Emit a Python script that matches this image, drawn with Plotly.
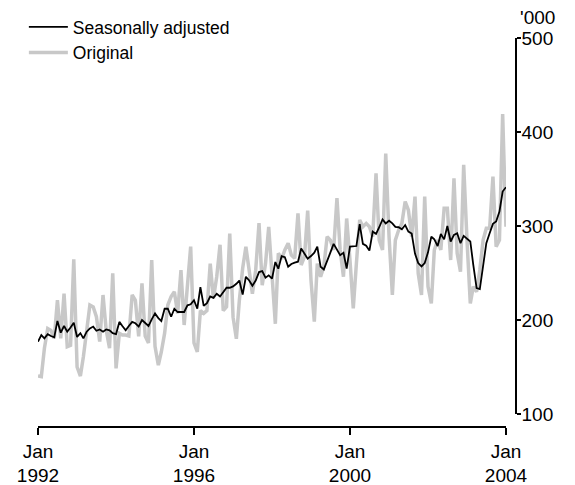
import pandas as pd
import plotly.graph_objects as go

# Monthly dates Jan 1992 .. Jan 2004
months = pd.date_range("1992-01-01", "2004-01-01", freq="MS")

seasonally_adjusted = [
    177, 184, 180.5, 185, 183, 181.6, 199, 186.5, 193.6, 187.6, 192, 197,
    182, 186, 180.5, 187.6, 191, 193, 188.6, 190, 187.6, 190, 189, 186,
    185, 198, 193.6, 189, 193.6, 198, 196.5, 193, 200, 196.5, 193.6, 200.7,
    207, 202, 199, 212, 212, 203.5, 212, 208.5, 208.5, 208.5, 215.6, 216.7,
    221, 212, 235, 215, 218, 225, 223.5, 228, 225, 229.6, 234.3, 234.3,
    235.7, 238.5, 242, 227, 246, 242, 236.5, 242, 251, 252, 245, 247.5,
    244, 261.7, 254.6, 268, 266.8, 256.6, 259.6, 261, 262, 276, 270.6, 265.3,
    268, 271.6, 278, 256.6, 253.8, 263.8, 271.6, 281, 274.5, 269, 271.6, 254.8,
    278, 278.7, 278.7, 302, 281, 279, 273.8, 294, 291.5, 298.7, 307, 302.8,
    305.6, 302.8, 299, 298.7, 296.6, 301, 294, 292, 270.6, 260.6, 257, 260.6,
    272, 288.7, 285.8, 278.7, 291.5, 285.8, 300, 283.5, 290.6, 292.3, 281.7, 289.5,
    286, 283.5, 258.7, 233.9, 232.8, 260.4, 281.7, 292.3, 302.3, 304.8, 315.4, 336.7,
    341.3,
]

original = [
    140.4, 139.7, 170, 191, 189, 180.5, 221, 180.5, 228, 171.6, 173, 264.6,
    150, 140.4, 161, 189, 216, 214, 203.5, 177, 226.6, 189, 170, 249.7,
    148.6, 185.8, 184, 184, 183, 226.6, 221, 182.5, 239, 183, 175.6, 263.8,
    172, 152, 166, 186, 216, 225, 230, 207, 253, 194.7, 235.5, 278,
    175.6, 166, 210, 207, 210, 260, 223, 246, 280, 210, 214, 292,
    203, 180, 221, 255, 278, 253, 228, 253, 303, 237, 260, 299,
    250, 196, 271, 265, 274.5, 281.6, 269, 265.6, 313.5, 258.5, 267.4, 316.3,
    242.5, 198.2, 260, 246, 256.7, 288.7, 285, 274.5, 329.6, 274.5, 246, 308,
    263.8, 212.4, 260, 306.4, 299.3, 302.8, 299.3, 288.7, 356, 285, 274.5, 377,
    288.7, 226.6, 285, 295.7, 302.8, 326, 317, 288.7, 331.3, 249.6, 226.6, 331.3,
    235.5, 217.7, 274.5, 285, 274.5, 319, 319, 263.8, 350.7, 271, 251.4, 365,
    285, 217.7, 235.5, 230, 253.2, 285, 297.5, 297.5, 352.5, 278, 285, 419,
    299.3,
]

x_tick_vals = ["1992-01-01", "1996-01-01", "2000-01-01", "2004-01-01"]
x_tick_text = ["Jan<br>1992", "Jan<br>1996", "Jan<br>2000", "Jan<br>2004"]
y_tick_vals = [100, 200, 300, 400, 500]

FONT = "Liberation Sans, Arial, sans-serif"

fig = go.Figure()
fig.add_trace(go.Scatter(
    x=months, y=original, mode="lines", name="Original",
    line=dict(color="#c8c8c8", width=3.5), legendrank=2,
))
fig.add_trace(go.Scatter(
    x=months, y=seasonally_adjusted, mode="lines", name="Seasonally adjusted",
    line=dict(color="#000000", width=1.8), legendrank=1,
))

fig.update_layout(
    width=575, height=485,
    margin=dict(l=30, r=67, t=30, b=66, pad=0, autoexpand=False),
    paper_bgcolor="white", plot_bgcolor="white",
    font=dict(family=FONT, size=19, color="black"),
    showlegend=True,
    legend=dict(
        x=0.0276, y=0.998, xanchor="left", yanchor="top",
        xref="container", yref="container",
        font=dict(size=17.5), bgcolor="rgba(0,0,0,0)",
        tracegroupgap=0, itemwidth=39,
    ),
    xaxis=dict(
        type="date", range=["1992-01-01", "2004-01-01"],
        domain=[0, 0.979], anchor="free", position=0, automargin=False,
        tickmode="array", tickvals=x_tick_vals, ticktext=x_tick_text,
        showline=True, linecolor="black", linewidth=1.5,
        ticks="outside", ticklen=7, tickwidth=1.5, tickcolor="black",
        showgrid=False, zeroline=False,
        tickfont=dict(size=19),
    ),
    yaxis=dict(
        range=[100, 500], domain=[0.0334, 1],
        side="right", anchor="free", position=1, automargin=False,
        tickmode="array", tickvals=y_tick_vals,
        showline=True, linecolor="black", linewidth=1.5,
        ticks="outside", ticklen=4, tickwidth=1.5, tickcolor="black",
        ticklabelstandoff=-3,
        showgrid=False, zeroline=False,
        tickfont=dict(size=19),
    ),
    annotations=[dict(
        text="'000", xref="paper", yref="paper", x=1, y=1,
        xanchor="left", yanchor="middle", xshift=2, yshift=21,
        showarrow=False, font=dict(size=19),
    )],
)

fig.write_html("out.html")
